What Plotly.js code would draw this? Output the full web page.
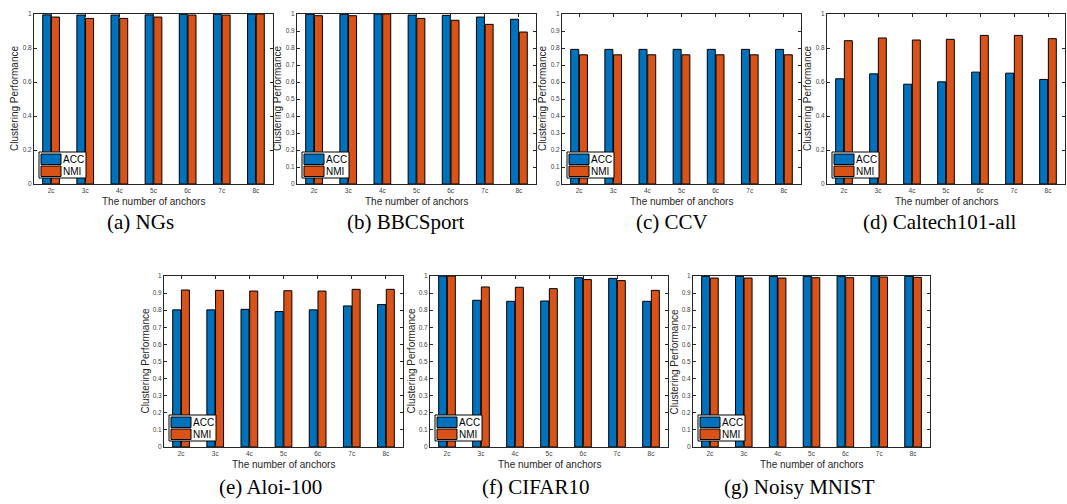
<!DOCTYPE html>
<html>
<head>
<meta charset="utf-8">
<script src="https://cdn.plot.ly/plotly-3.0.1.min.js"></script>
<style>
  html, body { margin: 0; padding: 0; background: #fff; }
  #chart { width: 1067px; height: 504px; }
</style>
</head>
<body>
<div id="chart"></div>
<script>
// Number of anchors (x categories)
const anchors = ['2c', '3c', '4c', '5c', '6c', '7c', '8c'];

// Clustering performance per dataset
const ngsACC      = [0.995, 0.994, 0.994, 0.995, 0.998, 0.998, 1.000];
const ngsNMI      = [0.982, 0.974, 0.974, 0.982, 0.994, 0.994, 1.000];
const bbcACC      = [0.998, 0.998, 1.000, 0.994, 0.992, 0.982, 0.969];
const bbcNMI      = [0.990, 0.990, 1.000, 0.974, 0.963, 0.939, 0.894];
const ccvACC      = [0.792, 0.792, 0.792, 0.792, 0.792, 0.792, 0.792];
const ccvNMI      = [0.760, 0.760, 0.760, 0.760, 0.760, 0.760, 0.760];
const caltechACC  = [0.619, 0.648, 0.587, 0.601, 0.658, 0.652, 0.615];
const caltechNMI  = [0.843, 0.859, 0.847, 0.851, 0.874, 0.874, 0.855];
const aloiACC     = [0.802, 0.802, 0.805, 0.792, 0.802, 0.825, 0.833];
const aloiNMI     = [0.918, 0.916, 0.912, 0.914, 0.912, 0.922, 0.922];
const cifarACC    = [1.000, 0.858, 0.852, 0.854, 0.990, 0.986, 0.852];
const cifarNMI    = [1.000, 0.936, 0.934, 0.926, 0.979, 0.973, 0.916];
const mnistACC    = [0.998, 0.998, 0.998, 0.998, 0.998, 0.998, 0.998];
const mnistNMI    = [0.988, 0.988, 0.988, 0.990, 0.990, 0.994, 0.992];

const captions = ['(a) NGs', '(b) BBCSport', '(c) CCV', '(d) Caltech101-all',
                  '(e) Aloi-100', '(f) CIFAR10', '(g) Noisy MNIST'];
const seriesNames = ['ACC', 'NMI'];
const xTitle = 'The number of anchors';
const yTitle = 'Clustering Performance';
const accSets = [ngsACC, bbcACC, ccvACC, caltechACC, aloiACC, cifarACC, mnistACC];
const nmiSets = [ngsNMI, bbcNMI, ccvNMI, caltechNMI, aloiNMI, cifarNMI, mnistNMI];

// ---- layout geometry (pixels in a 1067 x 504 page) ----
const W = 1067, H = 504;
const panelX = [[34, 273], [297, 536], [562, 801], [827, 1065],
                [164, 403], [430, 668], [693, 930]];
const panelY = [[14, 184], [14, 184], [14, 184], [14, 184],
                [276, 447], [276, 447], [276, 447]];
const panelDtick = [0.2, 0.1, 0.1, 0.2, 0.1, 0.1, 0.1];
const captionPos = [[140, 222], [405, 222], [672, 222], [940, 222],
                    [270, 487], [536, 487], [799, 487]];

const colors = { ACC: '#0072BD', NMI: '#D95319' };
const axisColor = '#262626';
const sans = 'Liberation Sans, Arial, Helvetica, sans-serif';
const serif = 'Liberation Serif, Times New Roman, serif';

const traces = [];
const layout = {
  width: W, height: H,
  margin: { l: 0, r: 0, t: 0, b: 0, pad: 0 },
  paper_bgcolor: '#ffffff',
  plot_bgcolor: '#ffffff',
  barmode: 'group',
  bargap: 0.49,
  bargroupgap: 0.08,
  showlegend: false,
  font: { family: sans, color: axisColor },
  shapes: [],
  annotations: []
};

for (let i = 0; i < 7; i++) {
  const k = i === 0 ? '' : String(i + 1);
  const xd = [panelX[i][0] / W, panelX[i][1] / W];
  const yd = [1 - panelY[i][1] / H, 1 - panelY[i][0] / H];

  [accSets[i], nmiSets[i]].forEach((vals, s) => {
    traces.push({
      type: 'bar',
      name: seriesNames[s],
      x: anchors,
      y: vals,
      xaxis: 'x' + k,
      yaxis: 'y' + k,
      marker: { color: colors[seriesNames[s]], line: { color: '#000000', width: 1 } },
      showlegend: false,
      hoverinfo: 'x+y+name'
    });
  });

  layout['xaxis' + k] = {
    domain: xd, anchor: 'y' + k,
    type: 'category', range: [-0.5, 6.5],
    showline: true, linecolor: axisColor, linewidth: 1, mirror: 'ticks',
    ticks: 'inside', ticklen: 3, tickcolor: axisColor, tickwidth: 1,
    tickfont: { size: 6.5, color: '#404040', family: sans },
    showgrid: false, zeroline: false, fixedrange: true
  };
  layout['yaxis' + k] = {
    domain: yd, anchor: 'x' + k,
    range: [0, 1], tick0: 0, dtick: panelDtick[i],
    showline: true, linecolor: axisColor, linewidth: 1, mirror: 'ticks',
    ticks: 'inside', ticklen: 3, tickcolor: axisColor, tickwidth: 1,
    tickfont: { size: 6.5, color: '#404040', family: sans },
    showgrid: false, zeroline: false, fixedrange: true
  };

  // Axis titles placed just outside each panel
  layout.annotations.push({
    xref: 'paper', yref: 'paper',
    x: (xd[0] + xd[1]) / 2, y: 1 - (panelY[i][1] + 17) / H,
    xanchor: 'center', yanchor: 'middle', showarrow: false,
    text: xTitle, font: { size: 10, color: axisColor, family: sans }
  });
  layout.annotations.push({
    xref: 'paper', yref: 'paper',
    x: (panelX[i][0] - 19) / W, y: (yd[0] + yd[1]) / 2,
    xanchor: 'center', yanchor: 'middle', showarrow: false, textangle: -90,
    text: yTitle, font: { size: 10, color: axisColor, family: sans }
  });

  // In-plot legend box at the lower-left corner of each panel
  const ax = xd[0], ay = yd[0];
  const px = { xref: 'paper', yref: 'paper', xsizemode: 'pixel', ysizemode: 'pixel',
               xanchor: ax, yanchor: ay, layer: 'above' };
  layout.shapes.push(Object.assign({ type: 'rect', x0: 5, x1: 52, y0: 6, y1: 32,
    line: { color: '#000000', width: 1 }, fillcolor: '#ffffff' }, px));
  layout.shapes.push(Object.assign({ type: 'rect', x0: 7, x1: 27, y0: 19.5, y1: 30,
    line: { color: '#000000', width: 1 }, fillcolor: colors.ACC }, px));
  layout.shapes.push(Object.assign({ type: 'rect', x0: 7, x1: 27, y0: 7.5, y1: 18,
    line: { color: '#000000', width: 1 }, fillcolor: colors.NMI }, px));
  seriesNames.forEach((nm, s) => {
    layout.annotations.push({
      xref: 'paper', yref: 'paper', x: ax, y: ay,
      xshift: 27, yshift: s === 0 ? 25 : 13,
      xanchor: 'left', yanchor: 'middle', showarrow: false,
      text: nm, font: { size: 10, color: '#000000', family: sans }
    });
  });

  // Sub-figure caption
  layout.annotations.push({
    xref: 'paper', yref: 'paper',
    x: captionPos[i][0] / W, y: 1 - captionPos[i][1] / H,
    xanchor: 'center', yanchor: 'middle', showarrow: false,
    text: captions[i], font: { size: 21, color: '#000000', family: serif }
  });
}

Plotly.newPlot('chart', traces, layout, { displayModeBar: false, staticPlot: true });
</script>
</body>
</html>
